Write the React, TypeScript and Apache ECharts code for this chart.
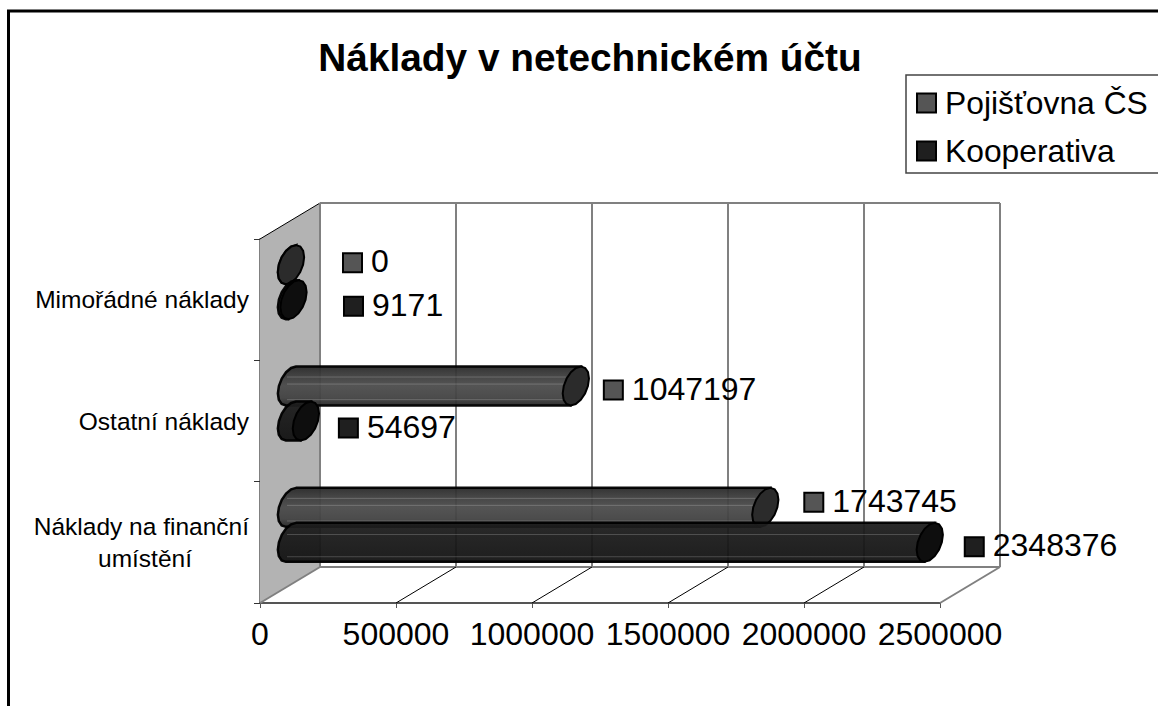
import React, { useEffect, useRef } from "react";
import * as echarts from "echarts";

const FONT = '"Liberation Sans", Arial, sans-serif';

const titleText = "Náklady v netechnickém účtu";
const categories = ["Náklady na finanční\numístění", "Ostatní náklady", "Mimořádné náklady"];
const seriesNames = ["Pojišťovna ČS", "Kooperativa"];
const pojistovna = [1743745, 1047197, 0];
const kooperativa = [2348376, 54697, 9171];
const xTicks = [0, 500000, 1000000, 1500000, 2000000, 2500000];

// layout only: where each value label sits relative to its bar's end
const pojLabelOffset = [[69, -5], [58, 4], [82, -2]];
const koopLabelOffset = [[65, 4.5], [63, 7], [80.5, 6.5]];

const DEPTH_X = 60;
const DEPTH_Y = 36;
const BAR_SHIFT = 31;
const BAND_GAP = 35;

const A = 20.5;
const B = 11.5;
const TH = (22 * Math.PI) / 180;
const ux = Math.sin(TH), uy = -Math.cos(TH), vx = Math.cos(TH), vy = Math.sin(TH);
const tTop = Math.atan2(-B * Math.sin(TH), A * Math.cos(TH));
const pt = (cx: number, cy: number, t: number) => [
  cx + A * Math.cos(t) * ux + B * Math.sin(t) * vx,
  cy + A * Math.cos(t) * uy + B * Math.sin(t) * vy,
];
const STEPS = 8;

function capPoints(cx: number, cy: number) {
  const out: number[][] = [];
  for (let i = 0; i < STEPS * 2; i++) out.push(pt(cx, cy, tTop + (i * Math.PI) / STEPS));
  return out;
}
function bodyPoints(x0: number, x1: number, cy: number) {
  const out: number[][] = [];
  for (let i = 0; i <= STEPS; i++) out.push(pt(x0, cy, tTop - (i * Math.PI) / STEPS));
  out.push(pt(x1, cy, tTop + Math.PI));
  out.push(pt(x1, cy, tTop));
  return out;
}

function barSeries(
  name: string,
  values: number[],
  offsets: number[][],
  yShift: number,
  swatch: string,
  capColor: string,
  stops: [number, string][],
  stripes: number[],
) {
  return {
    type: "custom",
    name,
    z: 5,
    clip: false,
    silent: true,
    itemStyle: { color: swatch },
    encode: { x: 0, y: 1 },
    data: values.map((v, i) => [v, i]),
    renderItem: (params: any, api: any) => {
      const i = params.dataIndex;
      const v = api.value(0);
      const [xEnd, yc] = api.coord([v, i]);
      const [xStart] = api.coord([0, i]);
      const cy = yc + yShift;
      const x0 = xStart + BAR_SHIFT;
      const x1 = xEnd + BAR_SHIFT;
      const top = cy - 19.5;
      const keyX = xEnd + offsets[i][0];
      const keyY = cy + offsets[i][1];
      const children: any[] = [
        {
          type: "polygon",
          shape: { points: bodyPoints(x0, x1, cy) },
          style: {
            fill: new echarts.graphic.LinearGradient(
              0, 0, 0, 1,
              stops.map(([offset, color]) => ({ offset, color })),
            ),
            stroke: "#000",
            lineWidth: 2.5,
            opacity: 0.95,
          },
        },
      ];
      if (x1 - x0 > 40) {
        stripes.forEach((f) => {
          children.push({
            type: "line",
            shape: { x1: x0 - 4, y1: top + 39 * f, x2: x1 - 10, y2: top + 39 * f },
            style: { stroke: "rgba(255,255,255,0.2)", lineWidth: 1 },
          });
        });
      }
      children.push(
        {
          type: "polygon",
          shape: { points: capPoints(x1, cy) },
          style: { fill: capColor, stroke: "#000", lineWidth: 2 },
        },
        {
          type: "rect",
          shape: { x: keyX + 1, y: keyY - 9.5, width: 19, height: 19 },
          style: { fill: swatch, stroke: "#000", lineWidth: 2 },
        },
        {
          type: "text",
          style: {
            text: String(v),
            x: keyX + 29,
            y: keyY - 1.5,
            fill: "#000",
            font: `32px ${FONT}`,
            align: "left",
            verticalAlign: "middle",
          },
        },
      );
      return { type: "group", children };
    },
  };
}

const frameSeries = {
  type: "custom",
  name: "frame",
  z: 1,
  clip: false,
  silent: true,
  encode: { x: 0 },
  data: xTicks.map((t) => [t, 0]),
  renderItem: (params: any, api: any) => {
    const cs = params.coordSys;
    const bottom = cs.y + cs.height;
    const right = cs.x + cs.width;
    const [x] = api.coord([api.value(0), 0]);
    const gray = { stroke: "#808080", lineWidth: 2 };
    const children: any[] = [];
    if (params.dataIndex === 0) {
      children.push(
        {
          type: "polygon",
          shape: {
            points: [
              [cs.x, cs.y],
              [cs.x + DEPTH_X, cs.y - DEPTH_Y],
              [cs.x + DEPTH_X, bottom - DEPTH_Y],
              [cs.x, bottom],
            ],
          },
          style: { fill: "#b3b3b3" },
        },
        {
          type: "line",
          shape: { x1: cs.x, y1: cs.y, x2: cs.x + DEPTH_X, y2: cs.y - DEPTH_Y },
          style: { stroke: "#000", lineWidth: 1 },
        },
        {
          type: "line",
          shape: { x1: cs.x + DEPTH_X, y1: cs.y - DEPTH_Y, x2: right + DEPTH_X, y2: cs.y - DEPTH_Y },
          style: gray,
        },
        {
          type: "line",
          shape: { x1: cs.x + DEPTH_X, y1: bottom - DEPTH_Y, x2: right + DEPTH_X, y2: bottom - DEPTH_Y },
          style: gray,
        },
      );
    }
    const edge = params.dataIndex === 0 || params.dataIndex === xTicks.length - 1;
    children.push(
      {
        type: "line",
        shape: { x1: x + DEPTH_X, y1: cs.y - DEPTH_Y, x2: x + DEPTH_X, y2: bottom - DEPTH_Y },
        style: gray,
      },
      {
        type: "line",
        shape: { x1: x, y1: bottom, x2: x + DEPTH_X, y2: bottom - DEPTH_Y },
        style: edge ? gray : { stroke: "#000", lineWidth: 1 },
      },
    );
    return { type: "group", children };
  },
};

export default function App() {
  const ref = useRef<HTMLDivElement>(null);
  useEffect(() => {
    const chart = echarts.init(ref.current!, undefined, { renderer: "svg" });
    chart.setOption({
      animation: false,
      backgroundColor: "#fff",
      title: {
        text: titleText,
        left: 585,
        top: 33,
        textAlign: "center",
        textStyle: { fontFamily: FONT, fontWeight: "bold", fontSize: 38.8, color: "#000" },
      },
      legend: {
        orient: "vertical",
        left: 906,
        top: 75,
        padding: [12, 30, 6, 10],
        itemGap: 16,
        itemWidth: 19,
        itemHeight: 19,
        icon: "rect",
        borderColor: "#444",
        borderWidth: 1.5,
        itemStyle: { borderColor: "#000", borderWidth: 2 },
        textStyle: { fontFamily: FONT, fontSize: 31.8, color: "#000", padding: [0, 0, 0, 4] },
        data: seriesNames,
      },
      grid: { left: 260, right: 218, top: 239, bottom: 103 },
      xAxis: {
        type: "value",
        min: 0,
        max: 2500000,
        interval: 500000,
        axisLine: { show: true, lineStyle: { color: "#555", width: 2 } },
        axisTick: { show: true, length: 5, lineStyle: { color: "#555", width: 1 } },
        axisLabel: {
          fontFamily: FONT,
          fontSize: 32,
          color: "#000",
          margin: 15,
          showMinLabel: true,
          showMaxLabel: true,
          hideOverlap: false,
          formatter: (v: number) => String(v),
        },
        splitLine: { show: false },
      },
      yAxis: {
        type: "category",
        data: categories,
        axisLine: { show: true, lineStyle: { color: "#808080", width: 2 } },
        axisTick: { show: true, length: 6, lineStyle: { color: "#333", width: 1 } },
        axisLabel: {
          margin: 11,
          color: "#000",
          align: "right",
          formatter: (v: string) => {
            const parts = v.split("\n");
            return parts.length > 1 ? `{a|${parts[0]}}\n{b|${parts[1]}}` : `{a|${v}}`;
          },
          rich: {
            a: { fontFamily: FONT, fontSize: 24.5, lineHeight: 32, color: "#000" },
            b: { fontFamily: FONT, fontSize: 24.5, lineHeight: 32, color: "#000", padding: [0, 57, 0, 0] },
          },
        },
        splitLine: { show: false },
      },
      graphic: [
        {
          type: "rect",
          silent: true,
          z: -1,
          shape: { x: 8.5, y: 11, width: 1400, height: 1000 },
          style: { fill: "none", stroke: "#000", lineWidth: 3 },
        },
      ],
      series: [
        frameSeries,
        barSeries(seriesNames[0], pojistovna, pojLabelOffset, -BAND_GAP, "#555555", "#2b2b2b",
          [[0, "#292929"], [0.2, "#3a3a3a"], [0.5, "#4b4b4b"], [0.8, "#424242"], [1, "#282828"]],
          [0.27, 0.45, 0.85]),
        barSeries(seriesNames[1], kooperativa, koopLabelOffset, 0, "#1f1f1f", "#0e0e0e",
          [[0, "#1e1e1e"], [0.5, "#181818"], [1, "#121212"]],
          [0.3, 0.87]),
      ],
    });
    return () => chart.dispose();
  }, []);
  return <div ref={ref} style={{ position: "fixed", left: 0, top: 0, width: 1158, height: 706, overflow: "hidden" }} />;
}
